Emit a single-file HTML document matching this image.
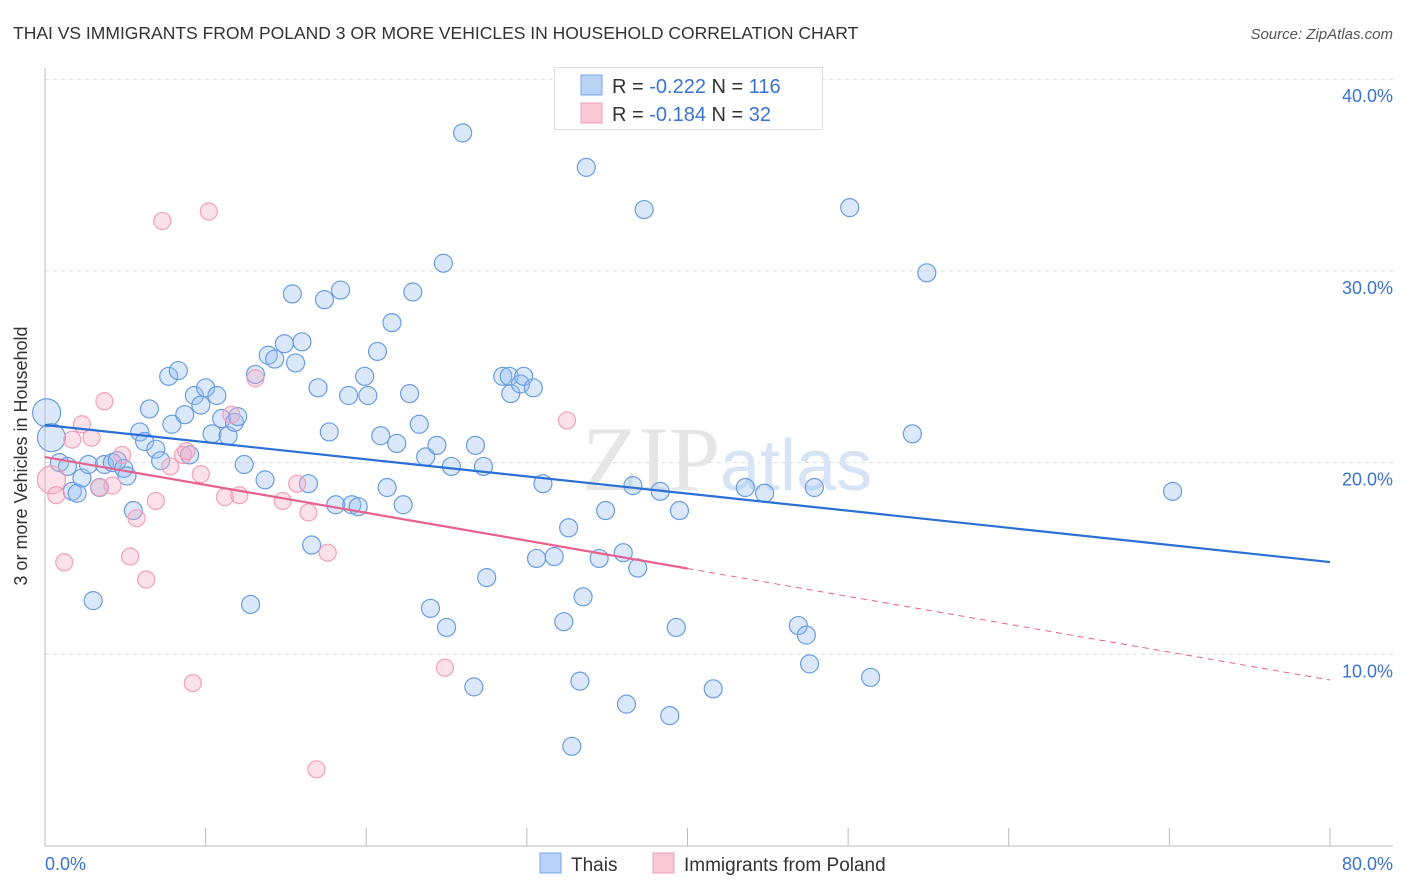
<!DOCTYPE html>
<html><head><meta charset="utf-8">
<style>
body{margin:0;background:#fff;}
svg{display:block;font-family:"Liberation Sans",sans-serif;}
</style></head>
<body>
<svg id="chart" width="1406" height="892" viewBox="0 0 1406 892">
<text x="13" y="39" font-size="17.5" fill="#333">THAI VS IMMIGRANTS FROM POLAND 3 OR MORE VEHICLES IN HOUSEHOLD CORRELATION CHART</text>
<text x="1393" y="39" font-size="15" fill="#555" font-style="italic" text-anchor="end">Source: ZipAtlas.com</text>
<g id="grid"></g>
<g id="axes"></g>
<text x="720" y="490" font-size="92" fill="#e6e6e6" text-anchor="end" font-family="Liberation Serif,serif">ZIP</text>
<text x="720" y="490" font-size="72" fill="#d6e4f6">atlas</text>
<g id="pts"></g>
<g id="trends"></g>
<text x="27" y="456" font-size="18" fill="#333" text-anchor="middle" transform="rotate(-90 27 456)">3 or more Vehicles in Household</text>
<g>
<rect x="554.5" y="67.5" width="268" height="62" fill="#fff" stroke="#ddd"/>
<rect x="581" y="75" width="21" height="20" fill="#b8d3f5" stroke="#7aa6e6"/>
<rect x="581" y="103" width="21" height="20" fill="#f9c8d7" stroke="#f0a0bb"/>
<text x="612" y="93" font-size="20" fill="#333">R = <tspan fill="#3b73d1">-0.222</tspan>   N = <tspan fill="#3b73d1">116</tspan></text>
<text x="612" y="121" font-size="20" fill="#333">R = <tspan fill="#3b73d1"> -0.184</tspan>   N = <tspan fill="#3b73d1"> 32</tspan></text>
</g>
<g>
<rect x="540" y="853" width="21" height="20" fill="#b8d3f5" stroke="#7aa6e6"/>
<text x="571" y="871" font-size="19" fill="#333">Thais</text>
<rect x="653" y="853" width="21" height="20" fill="#f9c8d7" stroke="#f0a0bb"/>
<text x="684" y="871" font-size="19" fill="#333">Immigrants from Poland</text>
</g>
</svg>
<script>
const yTicks=[10,20,30,40];
const yTickLabels=["10.0%","20.0%","30.0%","40.0%"];
const xTicks=[0,10,20,30,40,50,60,70,80];
const thaiX=[0.1,0.4,0.9,1.4,1.7,2.0,2.3,2.7,3.0,3.4,3.7,4.2,4.5,4.9,5.1,5.5,5.9,6.2,6.5,6.9,7.2,7.7,7.9,8.3,8.7,9.0,9.3,9.7,10.0,10.4,10.7,11.0,11.4,11.8,12.0,12.4,12.8,13.1,13.7,13.9,14.3,14.9,15.4,15.6,16.0,16.4,16.6,17.0,17.4,17.7,18.1,18.4,18.9,19.1,19.5,19.9,20.1,20.7,20.9,21.3,21.6,21.9,22.3,22.7,22.9,23.3,23.7,24.0,24.4,24.8,25.0,25.3,26.0,26.8,27.3,27.5,26.7,28.5,28.9,29.0,29.6,29.8,30.4,30.6,31.0,31.7,32.3,32.6,32.8,33.3,33.5,33.7,34.5,34.9,36.0,36.2,36.6,36.9,37.3,38.3,38.9,39.3,39.5,41.6,43.6,44.8,46.9,47.4,47.6,47.9,50.1,51.4,54.0,54.9,70.2];
const thaiY=[22.6,21.3,20.0,19.8,18.5,18.4,19.2,19.9,12.8,18.7,19.9,20.0,20.1,19.7,19.3,17.5,21.6,21.1,22.8,20.7,20.1,24.5,22.0,24.8,22.5,20.4,23.5,23.0,23.9,21.5,23.5,22.3,21.4,22.1,22.4,19.9,12.6,24.6,19.1,25.6,25.4,26.2,28.8,25.2,26.3,18.9,15.7,23.9,28.5,21.6,17.8,29.0,23.5,17.8,17.7,24.5,23.5,25.8,21.4,18.7,27.3,21.0,17.8,23.6,28.9,22.0,20.3,12.4,20.9,30.4,11.4,19.8,37.2,20.9,19.8,14.0,8.3,24.5,24.5,23.6,24.1,24.5,23.9,15.0,18.9,15.1,11.7,16.6,5.2,8.6,13.0,35.4,15.0,17.5,15.3,7.4,18.8,14.5,33.2,18.5,6.8,11.4,17.5,8.2,18.7,18.4,11.5,11.0,9.5,18.7,33.3,8.8,21.5,29.9,18.5];
const polX=[0.4,0.7,1.2,1.7,2.3,2.9,3.4,3.7,4.2,4.8,5.3,5.7,6.3,6.9,7.3,7.8,8.6,8.8,9.2,9.7,10.2,11.2,11.6,12.1,13.1,14.8,15.7,16.4,16.9,17.6,24.9,32.5];
const polY=[19.1,18.3,14.8,21.2,22.0,21.3,18.7,23.2,18.8,20.4,15.1,17.1,13.9,18.0,32.6,19.8,20.4,20.6,8.5,19.4,33.1,18.2,22.5,18.3,24.4,18.0,18.9,17.4,4.0,15.3,9.3,22.2];
const thaiTrend=[21.96,14.81];
const polTrend=[20.29,8.66];
const polSolidEnd=40;

const NS="http://www.w3.org/2000/svg";
const X0=45,X1=1330,Y0=846,PXY=19.17;
function sx(v){return X0+(X1-X0)*v/80;}
function sy(v){return Y0-v*PXY;}
function mk(tag,attrs,parent){const e=document.createElementNS(NS,tag);for(const k in attrs)e.setAttribute(k,attrs[k]);parent.appendChild(e);return e;}
const grid=document.getElementById('grid'),axes=document.getElementById('axes'),pts=document.getElementById('pts'),tr=document.getElementById('trends');
yTicks.forEach((t,i)=>{
 const l=mk('line',{x1:X0,x2:1393,y1:sy(t),y2:sy(t),stroke:'#ddd','stroke-dasharray':'4 4'},grid);
 
 
 const tx=mk('text',{x:1393,y:sy(t)+23,'font-size':18,fill:'#3b73d1','text-anchor':'end'},axes);
 tx.textContent=yTickLabels[i];
 
 
});
const al=mk('line',{x1:X0,x2:X0,y1:68,y2:Y0,stroke:'#bbb'},axes);


const bl=mk('line',{x1:X0,x2:1393,y1:Y0,y2:Y0,stroke:'#bbb'},axes);


xTicks.forEach(t=>{
 if(t===0)return;
 const l=mk('line',{x1:sx(t),x2:sx(t),y1:828,y2:Y0,stroke:'#bbb'},axes);
 
 
});
const xl0=mk('text',{x:X0,y:870,'font-size':18,fill:'#3b73d1'},axes);xl0.textContent='0.0%';


const xl1=mk('text',{x:1393,y:870,'font-size':18,fill:'#3b73d1','text-anchor':'end'},axes);xl1.textContent='80.0%';



thaiX.forEach((x,i)=>{
 const c=mk('circle',{cx:sx(x),cy:sy(thaiY[i]),r:i<2?14:9,fill:'rgba(150,190,240,0.35)',stroke:'#6a9de0','stroke-width':1.2},pts);
 
 
});
polX.forEach((x,i)=>{
 const c=mk('circle',{cx:sx(x),cy:sy(polY[i]),r:i===0?14:8.5,fill:'rgba(245,170,195,0.35)',stroke:'#f0a0bb','stroke-width':1.2},pts);
 
 
});
const t1=mk('line',{x1:sx(0),y1:sy(thaiTrend[0]),x2:sx(80),y2:sy(thaiTrend[1]),stroke:'#2a6fd6','stroke-width':2.2},tr);


const pm=polTrend[0]+(polTrend[1]-polTrend[0])*polSolidEnd/80;
const t2=mk('line',{x1:sx(0),y1:sy(polTrend[0]),x2:sx(polSolidEnd),y2:sy(pm),stroke:'#e8608e','stroke-width':2.2},tr);


const t3=mk('line',{x1:sx(polSolidEnd),y1:sy(pm),x2:sx(80),y2:sy(polTrend[1]),stroke:'#e8608e','stroke-width':1,'stroke-dasharray':'6 5'},tr);


</script>
</body></html>
